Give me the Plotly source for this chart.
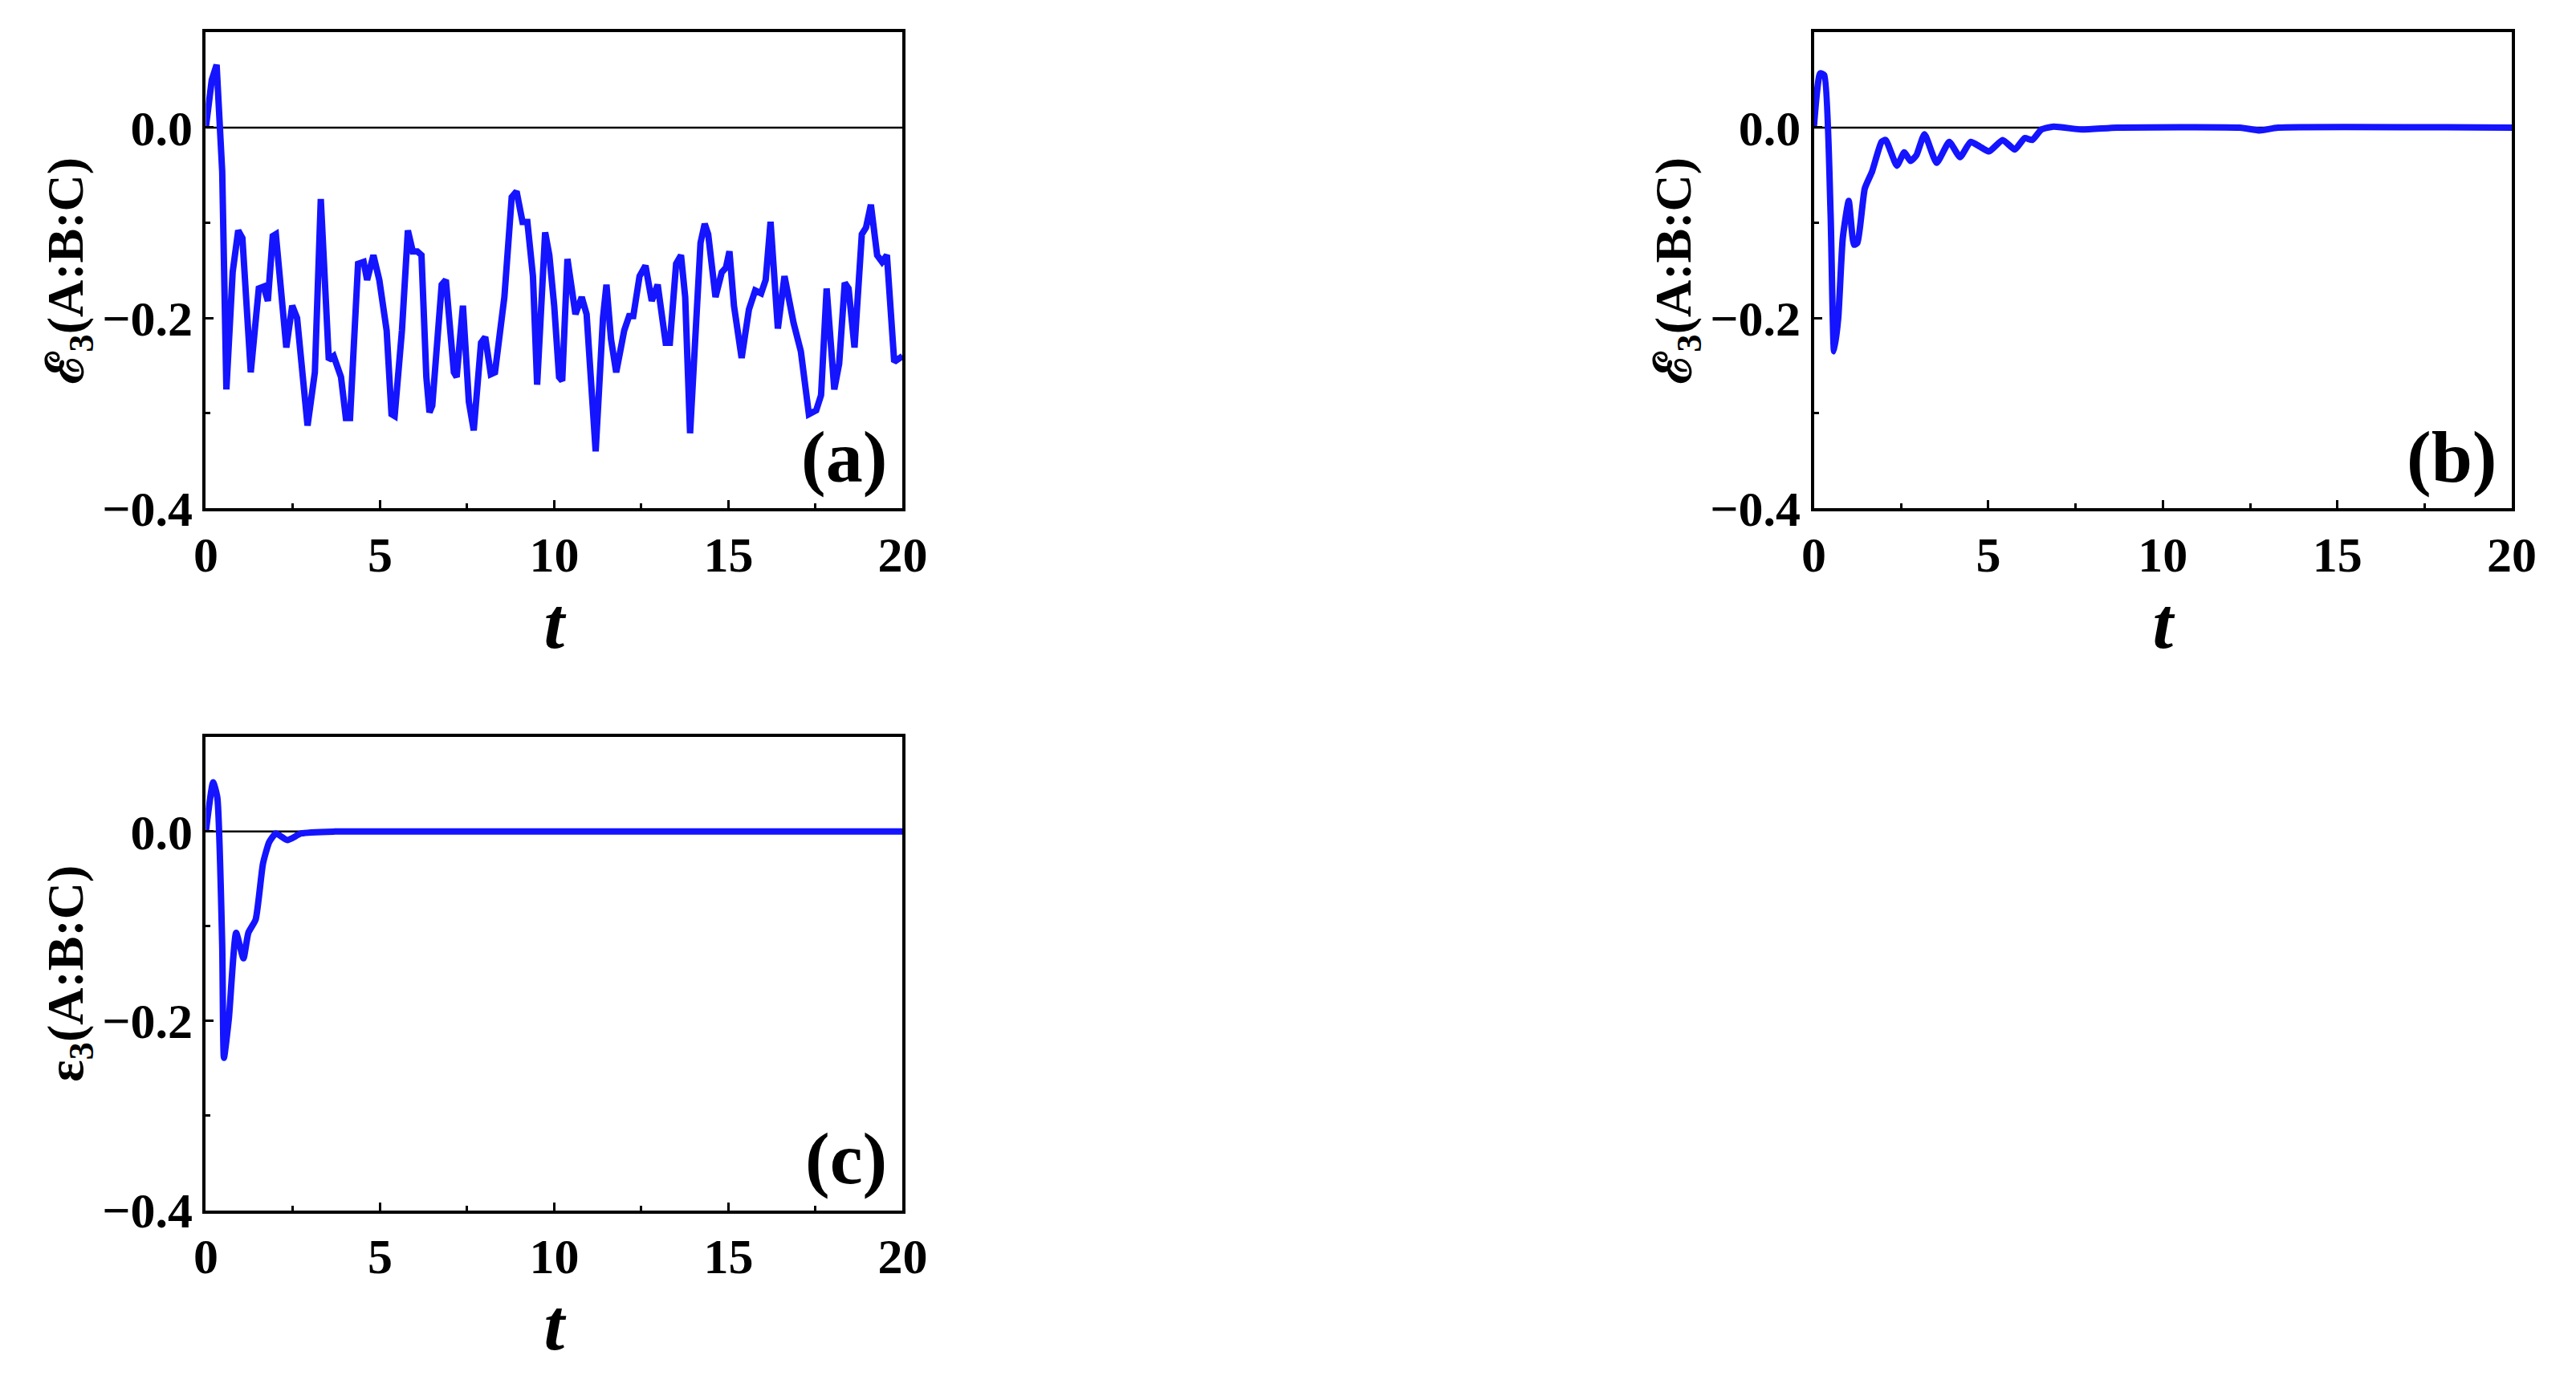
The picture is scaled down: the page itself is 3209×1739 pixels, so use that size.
import plotly.graph_objects as go

ta = [0,0.17,0.31,0.47,0.59,0.77,0.93,1.05,1.29,1.52,1.66,1.78,1.92,2.01,2.31,2.48,2.62,2.92,3.13,3.30,3.53,3.67,3.88,4.02,4.14,4.37,4.53,4.63,4.81,4.98,5.19,5.33,5.42,5.63,5.80,5.94,6.07,6.19,6.33,6.42,6.50,6.77,6.89,7.12,7.20,7.38,7.55,7.69,7.90,8.02,8.18,8.30,8.57,8.78,8.92,9.09,9.23,9.39,9.51,9.62,9.74,9.86,10.00,10.14,10.23,10.38,10.52,10.61,10.79,10.93,11.19,11.40,11.50,11.63,11.78,12.01,12.15,12.27,12.45,12.62,12.80,12.97,13.20,13.32,13.50,13.64,13.76,13.90,14.20,14.32,14.42,14.63,14.81,14.93,15.03,15.16,15.38,15.59,15.77,15.94,16.07,16.21,16.42,16.61,16.87,17.08,17.31,17.52,17.66,17.82,18.04,18.18,18.34,18.45,18.62,18.83,18.95,19.09,19.27,19.41,19.55,19.76,20.0]
ea = [0,0.05,0.066,-0.046,-0.275,-0.152,-0.108,-0.116,-0.257,-0.169,-0.167,-0.182,-0.114,-0.112,-0.231,-0.187,-0.2,-0.313,-0.257,-0.075,-0.244,-0.240,-0.262,-0.305,-0.305,-0.143,-0.141,-0.160,-0.134,-0.160,-0.213,-0.301,-0.303,-0.213,-0.108,-0.130,-0.130,-0.134,-0.262,-0.299,-0.292,-0.165,-0.160,-0.257,-0.262,-0.187,-0.288,-0.318,-0.226,-0.220,-0.259,-0.257,-0.178,-0.073,-0.067,-0.099,-0.099,-0.156,-0.270,-0.187,-0.110,-0.134,-0.187,-0.262,-0.266,-0.138,-0.169,-0.196,-0.178,-0.196,-0.340,-0.2,-0.165,-0.222,-0.257,-0.213,-0.198,-0.198,-0.156,-0.145,-0.182,-0.165,-0.226,-0.226,-0.143,-0.134,-0.178,-0.321,-0.121,-0.101,-0.112,-0.178,-0.152,-0.147,-0.130,-0.187,-0.242,-0.191,-0.171,-0.174,-0.160,-0.099,-0.211,-0.156,-0.205,-0.235,-0.301,-0.297,-0.281,-0.169,-0.275,-0.248,-0.163,-0.169,-0.231,-0.112,-0.105,-0.081,-0.134,-0.141,-0.134,-0.246,-0.240]

tb = [0,0.18,0.30,0.48,0.58,0.70,0.83,1.00,1.15,1.25,1.46,1.67,1.94,2.06,2.38,2.59,2.77,2.94,3.17,3.52,3.88,4.19,4.49,4.76,5.02,5.41,5.76,6.04,6.26,6.52,6.87,7.67,8.7,12.2,12.78,13.3,20]
eb = [0,0.057,0.055,-0.090,-0.235,-0.2,-0.116,-0.077,-0.123,-0.121,-0.064,-0.046,-0.015,-0.013,-0.040,-0.026,-0.035,-0.029,-0.007,-0.037,-0.015,-0.031,-0.015,-0.020,-0.025,-0.013,-0.023,-0.011,-0.013,-0.002,0.001,-0.002,0,0,-0.003,0,0]

tc = [0,0.21,0.33,0.47,0.52,0.66,0.87,1.08,1.22,1.43,1.64,1.82,2.01,2.34,2.74,3.7,20]
ec = [0,0.052,0.036,-0.120,-0.239,-0.198,-0.107,-0.134,-0.107,-0.093,-0.034,-0.011,-0.002,-0.009,-0.002,0.0,0.0]

panels = [
    (ta, ea, "(a)", "<b>ℰ<sub>3</sub>(A:B:C)</b>", [0.0735, 0.348], [0.633, 0.981], "linear"),
    (tb, eb, "(b)", "<b>ℰ<sub>3</sub>(A:B:C)</b>", [0.707, 0.982], [0.633, 0.981], "spline"),
    (tc, ec, "(c)", "<b>ε<sub>3</sub>(A:B:C)</b>", [0.0735, 0.348], [0.120, 0.466], "spline"),
]

FONT = "Liberation Serif"
fig = go.Figure()
for i, (t, e, lab, ytitle, dx, dy, shp) in enumerate(panels):
    n = "" if i == 0 else str(i + 1)
    xa, ya = "x" + n, "y" + n
    line = dict(color="#1414ff", width=8, shape=shp)
    if shp == "spline":
        line["smoothing"] = 0.5
    fig.add_trace(go.Scatter(x=t, y=e, mode="lines", line=line, xaxis=xa, yaxis=ya, showlegend=False))
    fig.add_shape(type="line", x0=0, x1=20, y0=0, y1=0, xref=xa, yref=ya, line=dict(color="black", width=2.5), layer="below")
    fig.add_annotation(x=0.98, y=0.02, xref=xa + " domain", yref=ya + " domain", text="<b>" + lab + "</b>",
                       showarrow=False, xanchor="right", yanchor="bottom", font=dict(family=FONT, size=92, color="black"))
    common = dict(showline=True, linewidth=4, linecolor="black", mirror=True, showgrid=False, zeroline=False,
                  ticks="inside", ticklen=10, tickwidth=3, tickcolor="black",
                  tickfont=dict(family=FONT, size=62, color="black"))
    fig.layout["xaxis" + n] = dict(domain=dx, range=[0, 20], tickvals=[0, 5, 10, 15, 20],
                                   ticktext=["<b>%d</b>" % v for v in [0, 5, 10, 15, 20]],
                                   anchor=ya, minor=dict(tickvals=[2.5, 7.5, 12.5, 17.5], ticks="inside", ticklen=6, tickwidth=3, tickcolor="black"),
                                   title=dict(text="<b><i>t</i></b>", font=dict(family=FONT, size=92, color="black"), standoff=14), **common)
    fig.layout["yaxis" + n] = dict(domain=dy, range=[-0.4, 0.1], tickvals=[-0.4, -0.2, 0.0],
                                   ticktext=["<b>−0.4</b>", "<b>−0.2</b>", "<b>0.0</b>"], anchor=xa,
                                   minor=dict(tickvals=[-0.3, -0.1], ticks="inside", ticklen=6, tickwidth=3, tickcolor="black"),
                                   title=dict(text=ytitle, font=dict(family=FONT, size=64, color="black"), standoff=4), **common)

fig.update_layout(width=3209, height=1739, margin=dict(l=0, r=0, t=0, b=0),
                  plot_bgcolor="white", paper_bgcolor="white")
fig.write_html("out.html")
